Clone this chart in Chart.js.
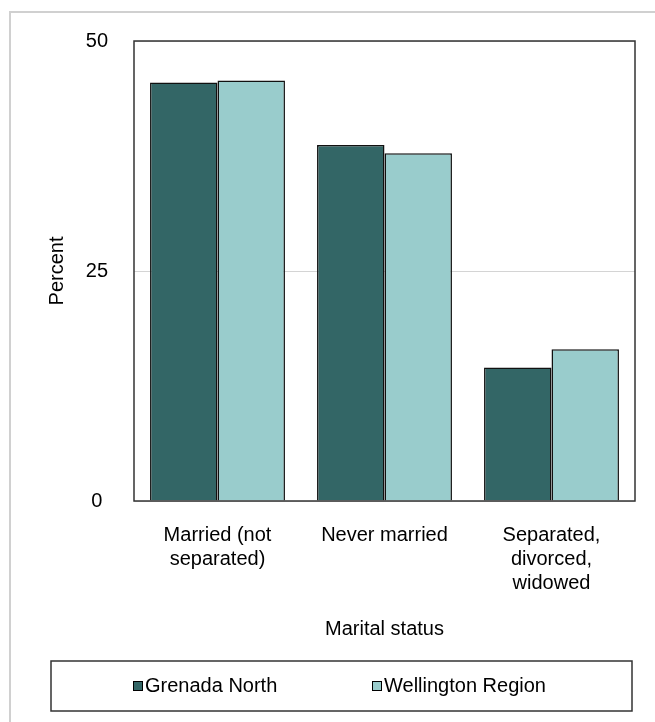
<!DOCTYPE html>
<html>
<head>
<meta charset="utf-8">
<script src="https://cdn.jsdelivr.net/npm/chart.js@4"></script>
<style>
  html, body { margin: 0; padding: 0; background: #fff; }
  #wrap { position: relative; width: 655px; height: 722px; }
</style>
</head>
<body>
<div id="wrap"><canvas id="chart" width="655" height="722"></canvas></div>
<script>
(function() {
'use strict';

// data
var categories = [['Married (not', 'separated)'], 'Never married', ['Separated,', 'divorced,', 'widowed']];
var grenadaNorth = [45.5, 38.7, 14.5];
var wellingtonRegion = [45.7, 37.8, 16.5];
var yTicks = [0, 25, 50];

var FONT = '"Liberation Sans", Arial, sans-serif';
var DARK = '#336666';
var LIGHT = '#99cccc';

// outer grey frame + plot border
var framePlugin = {
  id: 'frame',
  beforeDraw: function(chart) {
    var ctx = chart.ctx;
    ctx.save();
    ctx.strokeStyle = '#d0d0d0';
    ctx.lineWidth = 2;
    ctx.beginPath();
    ctx.moveTo(10, 722);
    ctx.lineTo(10, 12);
    ctx.lineTo(655, 12);
    ctx.stroke();
    ctx.restore();
  },
  afterDatasetsDraw: function(chart) {
    var a = chart.chartArea, ctx = chart.ctx;
    ctx.save();
    ctx.strokeStyle = '#333';
    ctx.lineWidth = 1.5;
    ctx.strokeRect(a.left, a.top, a.right - a.left, a.bottom - a.top);
    ctx.restore();
  }
};

// boxed legend below the axis title
var legendPlugin = {
  id: 'boxLegend',
  afterDraw: function(chart) {
    var ctx = chart.ctx;
    var itemX = [133, 372];
    var cy = 686;
    ctx.save();
    ctx.strokeStyle = '#333';
    ctx.lineWidth = 1.5;
    ctx.strokeRect(51, 661, 581, 50);
    ctx.font = '20px ' + FONT;
    ctx.textBaseline = 'middle';
    chart.data.datasets.forEach(function(ds, i) {
      var x = itemX[i];
      ctx.fillStyle = ds.backgroundColor;
      ctx.fillRect(x, cy - 5, 10, 10);
      ctx.lineWidth = 1;
      ctx.strokeStyle = '#000';
      ctx.strokeRect(x + 0.5, cy - 4.5, 9, 9);
      ctx.fillStyle = '#000';
      ctx.fillText(ds.label, x + 12, cy);
    });
    ctx.restore();
  }
};

new Chart(document.getElementById('chart').getContext('2d'), {
  type: 'bar',
  data: {
    labels: categories,
    datasets: [{
      label: 'Grenada North',
      data: grenadaNorth,
      backgroundColor: DARK,
      borderColor: '#111',
      borderWidth: 1.5,
      categoryPercentage: 0.808,
      barPercentage: 1.0
    }, {
      label: 'Wellington Region',
      data: wellingtonRegion,
      backgroundColor: LIGHT,
      borderColor: '#111',
      borderWidth: 1.5,
      categoryPercentage: 0.808,
      barPercentage: 1.0
    }]
  },
  options: {
    responsive: false,
    animation: false,
    devicePixelRatio: 1,
    layout: { padding: { left: 40, right: 20, top: 41, bottom: 77 } },
    plugins: {
      legend: { display: false },
      tooltip: { enabled: false }
    },
    scales: {
      x: {
        grid: { display: false, drawTicks: false },
        border: { display: false },
        ticks: { color: '#000', font: { family: FONT, size: 20 }, padding: 22, maxRotation: 0, autoSkip: false },
        title: { display: true, text: 'Marital status', color: '#000', font: { family: FONT, size: 20 }, padding: { top: 0, bottom: 4 } },
        afterFit: function(scale) { scale.height = 144; }
      },
      y: {
        min: 0,
        max: 50,
        afterBuildTicks: function(scale) {
          scale.ticks = yTicks.map(function(v) { return { value: v }; });
        },
        grid: { color: '#d4d4d4', drawTicks: false },
        border: { display: false },
        ticks: { color: '#000', font: { family: FONT, size: 20 }, padding: 26, crossAlign: 'center' },
        title: { display: true, text: 'Percent', color: '#000', font: { family: FONT, size: 20 }, padding: { top: 5, bottom: 0 } },
        afterFit: function(scale) { scale.width = 94; }
      }
    }
  },
  plugins: [framePlugin, legendPlugin]
});

})();
</script>
</body>
</html>
